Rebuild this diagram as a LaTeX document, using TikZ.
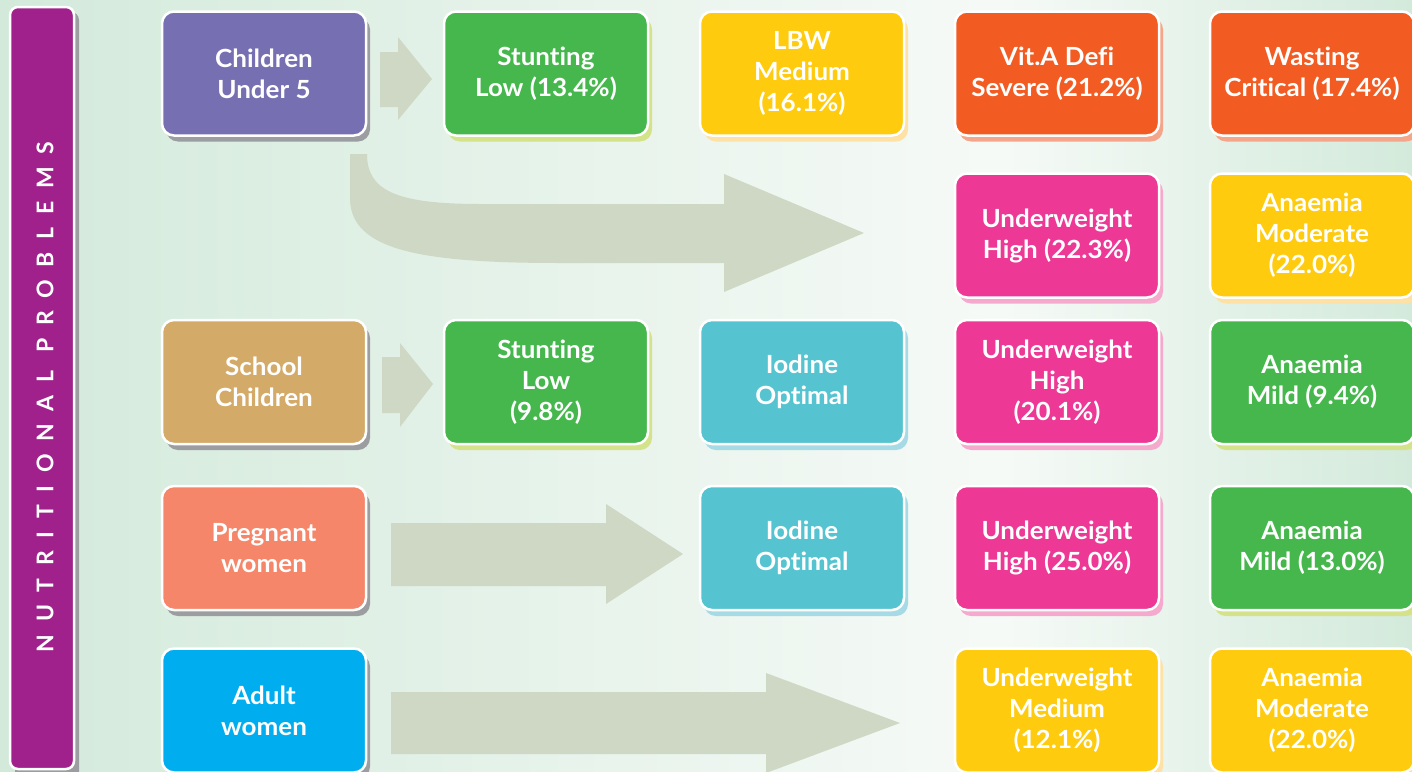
\documentclass[tikz,border=0pt]{standalone}
\usepackage{fontspec}
\setmainfont[Ligatures=NoCommon, FakeStretch=1.04]{Lato}
\newfontfamily\barfont[LetterSpace=55, Ligatures=NoCommon]{Lato}
\usetikzlibrary{shadows}

% palette
\definecolor{bgmint}{RGB}{211,234,219}
\definecolor{bglight}{RGB}{246,250,247}
\definecolor{barpurple}{RGB}{160,33,140}
\definecolor{cpurple}{RGB}{118,112,179}
\definecolor{cgreen}{RGB}{69,183,76}
\definecolor{cyellow}{RGB}{254,203,14}
\definecolor{corange}{RGB}{242,91,34}
\definecolor{cpink}{RGB}{237,56,149}
\definecolor{ctan}{RGB}{212,170,104}
\definecolor{ccyan}{RGB}{86,196,208}
\definecolor{csalmon}{RGB}{246,134,106}
\definecolor{cblue}{RGB}{0,174,239}
\definecolor{arrowfill}{RGB}{207,216,196}
% shadow tints
\definecolor{sgray}{RGB}{155,157,160}
\definecolor{sgreen}{RGB}{212,226,138}
\definecolor{syellow}{RGB}{253,225,165}
\definecolor{sorange}{RGB}{245,166,138}
\definecolor{spink}{RGB}{245,170,205}
\definecolor{scyan}{RGB}{166,219,230}

\tikzset{
  box/.style 2 args={
    fill=#1,
    general shadow={fill=#2, shadow xshift=4pt, shadow yshift=-6pt},
    draw=white, line width=2.5pt, rounded corners=12pt,
    minimum width=204pt, minimum height=124pt, inner sep=0pt,
    align=center, text=white,
    font=\fontsize{25}{31}\selectfont\bfseries},
  blockarrow/.style={fill=arrowfill}
}

\begin{document}
\begin{tikzpicture}[x=1pt,y=-1pt]
\useasboundingbox (0,0) rectangle (1412,771);
\clip (0,0) rectangle (1412,771);

% background wash
\fill[left color=bgmint, right color=bglight] (0,0) rectangle (1000,771);
\fill[left color=bglight, right color=bgmint] (1000,0) rectangle (1412,771);

% side banner
\fill[sgray, rounded corners=8pt] (15,12) rectangle (79,790);
\draw[fill=barpurple, draw=white, line width=2.5pt, rounded corners=8pt] (10,7) rectangle (74,769);
\node[rotate=90, text=white, font=\barfont\fontsize{23}{23}\selectfont\bfseries] (title) at (45,397) {NUTRITIONAL PROBLEMS};

% block arrows
\fill[blockarrow] (380,52) -- (398,52) -- (398,37) -- (432,79) -- (398,120) -- (398,107) -- (380,107) -- cycle;
\fill[blockarrow] (382,357) -- (400,357) -- (400,343) -- (433,384) -- (400,427) -- (400,413) -- (382,413) -- cycle;
\fill[blockarrow] (350,154) -- (350,200) .. controls (352,250) and (420,263) .. (560,263)
  -- (724,263) -- (724,292) -- (864,233) -- (724,174) -- (724,204) -- (480,204)
  .. controls (395,204) and (367,190) .. (367,154) -- cycle;
\fill[blockarrow] (391,523) -- (606,523) -- (606,504) -- (683,554) -- (606,604) -- (606,586) -- (391,586) -- cycle;
\fill[blockarrow] (391,692) -- (766,692) -- (766,673) -- (900,723) -- (766,773) -- (766,754) -- (391,754) -- cycle;

% row 1: children under 5
\node[box={cpurple}{sgray}]   (cu5)  at (264,73.5) {Children\\Under 5};
\node[box={cgreen}{sgreen}]   (st1)  at (546,73.5) {Stunting\\Low (13.4\%)};
\node[box={cyellow}{syellow}] (lbw)  at (802,73.5) {LBW\\Medium\\(16.1\%)};
\node[box={corange}{sorange}] (vita) at (1057,73.5) {Vit.A Defi\\Severe (21.2\%)};
\node[box={corange}{sorange}] (wast) at (1312,73.5) {Wasting\\Critical (17.4\%)};

% row 2
\node[box={cpink}{spink}]     (uw1)  at (1057,235.5) {Underweight\\High (22.3\%)};
\node[box={cyellow}{syellow}] (an1)  at (1312,235.5) {Anaemia\\Moderate\\(22.0\%)};

% row 3: school children
\node[box={ctan}{sgray}]      (sch)  at (264,382) {School\\Children};
\node[box={cgreen}{sgreen}]   (st2)  at (546,382) {Stunting\\Low\\(9.8\%)};
\node[box={ccyan}{scyan}]     (io1)  at (802,382) {Iodine\\Optimal};
\node[box={cpink}{spink}]     (uw2)  at (1057,382) {Underweight\\High\\(20.1\%)};
\node[box={cgreen}{sgreen}]   (an2)  at (1312,382) {Anaemia\\Mild (9.4\%)};

% row 4: pregnant women
\node[box={csalmon}{sgray}]   (prg)  at (264,548) {Pregnant\\women};
\node[box={ccyan}{scyan}]     (io2)  at (802,548) {Iodine\\Optimal};
\node[box={cpink}{spink}]     (uw3)  at (1057,548) {Underweight\\High (25.0\%)};
\node[box={cgreen}{sgreen}]   (an3)  at (1312,548) {Anaemia\\Mild (13.0\%)};

% row 5: adult women
\node[box={cblue}{sgray}]     (adw)  at (264,710.5) {Adult\\women};
\node[box={cyellow}{syellow}] (uw4)  at (1057,710.5) {Underweight\\Medium\\(12.1\%)};
\node[box={cyellow}{syellow}] (an4)  at (1312,710.5) {Anaemia\\Moderate\\(22.0\%)};
\end{tikzpicture}
\end{document}
